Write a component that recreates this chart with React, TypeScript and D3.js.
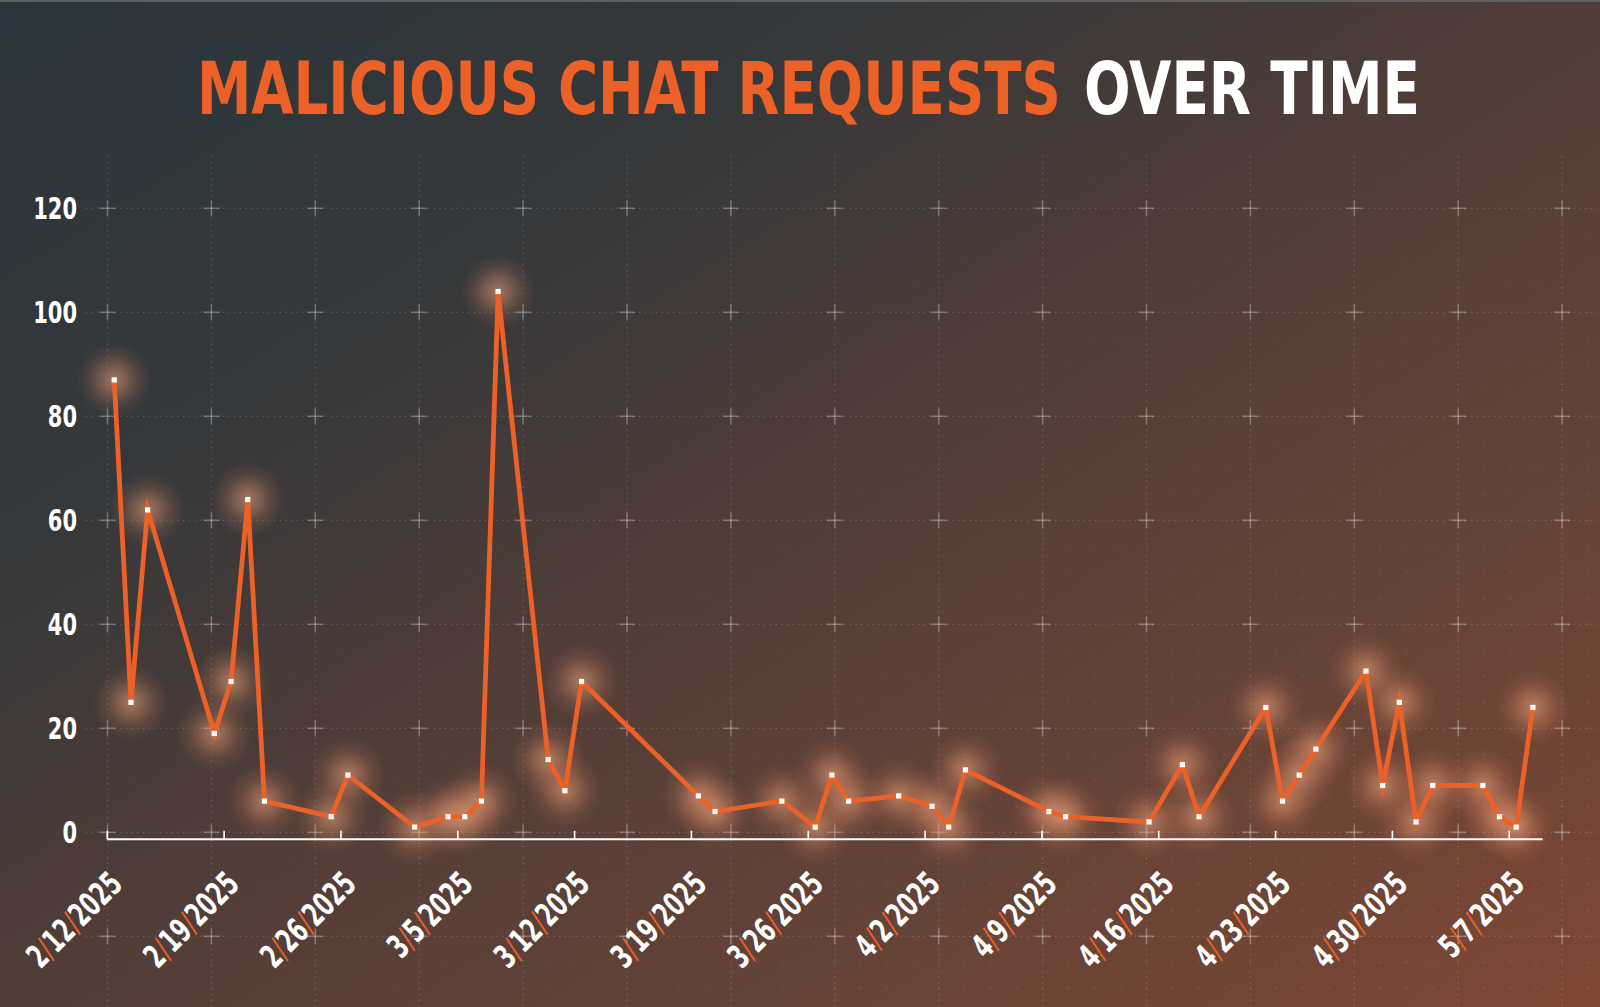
import React, { useLayoutEffect, useRef, useState } from "react";
import * as d3 from "d3";

const DATES = [
  "2/12/2025", "2/13/2025", "2/14/2025", "2/18/2025", "2/19/2025", "2/20/2025", "2/21/2025",
  "2/25/2025", "2/26/2025", "3/2/2025", "3/4/2025", "3/5/2025", "3/6/2025", "3/7/2025",
  "3/10/2025", "3/11/2025", "3/12/2025", "3/19/2025", "3/20/2025", "3/24/2025", "3/26/2025",
  "3/27/2025", "3/28/2025", "3/31/2025", "4/2/2025", "4/3/2025", "4/4/2025", "4/9/2025",
  "4/10/2025", "4/15/2025", "4/17/2025", "4/18/2025", "4/22/2025", "4/23/2025", "4/24/2025",
  "4/25/2025", "4/28/2025", "4/29/2025", "4/30/2025", "5/1/2025", "5/2/2025", "5/5/2025",
  "5/6/2025", "5/7/2025", "5/8/2025",
];
const VALUES = [
  87, 25, 62, 19, 29, 64, 6,
  3, 11, 1, 3, 3, 6, 104,
  14, 8, 29, 7, 4, 6, 1,
  11, 6, 7, 5, 1, 12, 4,
  3, 2, 13, 3, 24, 6, 11,
  16, 31, 9, 25, 2, 9, 9,
  3, 1, 24,
];
const TICK_LABELS = [
  "2/12/2025", "2/19/2025", "2/26/2025", "3/5/2025", "3/12/2025", "3/19/2025", "3/26/2025",
  "4/2/2025", "4/9/2025", "4/16/2025", "4/23/2025", "4/30/2025", "5/7/2025",
];
const Y_TICKS = [0, 20, 40, 60, 80, 100, 120];
const TITLE_A = "MALICIOUS CHAT REQUESTS";
const TITLE_B = "OVER TIME";

const W = 1600;
const H = 1007;
const ORANGE = "#EB6127";
const FONT = "'DejaVu Sans Condensed', 'DejaVu Sans', sans-serif";

const parse = (s: string) => {
  const [m, d, y] = s.split("/").map(Number);
  return new Date(Date.UTC(y, m - 1, d));
};

const labelLen = (s: string) =>
  s.split("").reduce((acc, c) => acc + (c === "/" ? 9.5 : 14.2), 0);

function FitText(props: {
  x: number;
  y: number;
  width: number;
  fill: string;
  fontSize: number;
  children: string;
}) {
  const ref = useRef<SVGTextElement>(null);
  const [sx, setSx] = useState(1);
  useLayoutEffect(() => {
    if (ref.current) {
      const w = ref.current.getComputedTextLength();
      if (w > 0) setSx(props.width / w);
    }
  }, [props.width, props.children]);
  return (
    <text
      ref={ref}
      x={0}
      y={0}
      transform={`translate(${props.x},${props.y}) scale(${sx},1)`}
      fontFamily={FONT}
      fontWeight="bold"
      fontSize={props.fontSize}
      fill={props.fill}
    >
      {props.children}
    </text>
  );
}

export default function App() {
  const x = d3
    .scaleUtc()
    .domain([parse("2/12/2025"), parse("5/9/2025")])
    .range([107.3, 1542.6]);
  const y = d3.scaleLinear().domain([0, 120]).range([832.3, 208.3]);

  const pts = DATES.map((d, i) => ({
    px: x(d3.utcHour.offset(parse(d), 10)),
    py: y(VALUES[i]),
  }));
  const line = d3
    .line<{ px: number; py: number }>()
    .x((p) => p.px)
    .y((p) => p.py);

  const colStep = 103.9;
  const cols = d3.range(15).map((k) => 107.5 + k * colStep);
  const rowStep = y(0) - y(20);
  const rows = d3.range(8).map((k) => y(120) + k * rowStep);

  const axisY = 839.3;

  return (
    <svg
      width={W}
      height={H}
      style={{ position: "absolute", left: 0, top: 0, display: "block" }}
      xmlns="http://www.w3.org/2000/svg"
    >
      <defs>
        <linearGradient id="bg" x1="0" y1="0" x2="1" y2="1">
          <stop offset="0" stopColor="#2A363D" />
          <stop offset="0.28" stopColor="#36383A" />
          <stop offset="0.5" stopColor="#513D37" />
          <stop offset="0.75" stopColor="#664337" />
          <stop offset="1" stopColor="#7E4733" />
        </linearGradient>
        <radialGradient id="glow">
          <stop offset="0" stopColor="#F4AC86" stopOpacity="0.55" />
          <stop offset="0.3" stopColor="#EA9A72" stopOpacity="0.4" />
          <stop offset="0.65" stopColor="#E08A64" stopOpacity="0.15" />
          <stop offset="1" stopColor="#E08560" stopOpacity="0" />
        </radialGradient>
        <pattern
          id="fine"
          width={colStep / 4}
          height={rowStep / 4}
          patternUnits="userSpaceOnUse"
          patternTransform={`translate(${107.5 - 1.5},${y(120) - 0.75})`}
        >
          <rect x="0" y="0" width="3" height="1.5" fill="#ffffff" />
        </pattern>
        <linearGradient id="fadeG" x1="0" y1="0" x2="1" y2="1">
          <stop offset="0.3" stopColor="#fff" stopOpacity="0" />
          <stop offset="1" stopColor="#fff" stopOpacity="1" />
        </linearGradient>
        <mask id="fadeM">
          <rect x="0" y="0" width={W} height={H} fill="url(#fadeG)" />
        </mask>
      </defs>

      <rect x="0" y="0" width={W} height={H} fill="url(#bg)" />
      <rect x="0" y="0" width={W} height="2" fill="#5E6062" />

      {/* fine dot grid */}
      <rect
        x="85"
        y="156"
        width={W - 85}
        height={H - 156}
        fill="url(#fine)"
        opacity="0.09"
        mask="url(#fadeM)"
      />

      {/* dotted grid lines */}
      <g stroke="#ffffff" strokeOpacity="0.2" strokeWidth="1.2" strokeDasharray="1.2 4.5">
        {cols.map((cx, i) => (
          <line key={"v" + i} x1={cx} x2={cx} y1={156} y2={H} />
        ))}
        {rows.map((ry, i) => (
          <line key={"h" + i} x1={86} x2={W} y1={ry} y2={ry} />
        ))}
      </g>
      {/* plus markers */}
      <g stroke="#ffffff" strokeOpacity="0.28" strokeWidth="1.6">
        {cols.map((cx, i) =>
          rows.map((ry, j) => (
            <g key={`p${i}-${j}`}>
              <line x1={cx - 8} x2={cx + 8} y1={ry} y2={ry} />
              <line x1={cx} x2={cx} y1={ry - 8} y2={ry + 8} />
            </g>
          ))
        )}
      </g>

      {/* title */}
      <FitText x={197} y={114} width={864} fill={ORANGE} fontSize={73}>
        {TITLE_A}
      </FitText>
      <FitText x={1084} y={114} width={336} fill="#FFFFFF" fontSize={73}>
        {TITLE_B}
      </FitText>

      {/* y labels */}
      {Y_TICKS.map((t) => (
        <text
          key={"y" + t}
          x={77}
          y={y(t) + 10.5}
          textAnchor="end"
          fontFamily={FONT}
          fontWeight="bold"
          fontSize={31}
          fill="#FFFFFF"
          textLength={String(t).length * 14.6}
          lengthAdjust="spacingAndGlyphs"
        >
          {t}
        </text>
      ))}

      {/* glows */}
      {pts.map((p, i) => (
        <circle key={"g" + i} cx={p.px} cy={p.py} r={38} fill="url(#glow)" />
      ))}

      {/* x axis */}
      <line x1={x(parse("2/12/2025"))} x2={x(parse("5/9/2025"))} y1={axisY} y2={axisY} stroke="#FFFFFF" strokeWidth={2} />
      {TICK_LABELS.map((t) => {
        const tx = x(parse(t));
        return (
          <line key={"t" + t} x1={tx} x2={tx} y1={axisY} y2={axisY - 8.5} stroke="#FFFFFF" strokeWidth={1.6} />
        );
      })}
      {TICK_LABELS.map((t) => {
        const tx = x(parse(t)) + 17;
        const ty = 886;
        const parts = t.split("/");
        return (
          <text
            key={"l" + t}
            x={tx}
            y={ty}
            transform={`rotate(-45 ${tx} ${ty})`}
            textAnchor="end"
            fontFamily={FONT}
            fontWeight="bold"
            fontSize={33}
            fill="#FFFFFF"
            textLength={labelLen(t)}
            lengthAdjust="spacingAndGlyphs"
          >
            <tspan>{parts[0]}</tspan>
            <tspan fill={ORANGE} fontWeight="normal">/</tspan>
            <tspan>{parts[1]}</tspan>
            <tspan fill={ORANGE} fontWeight="normal">/</tspan>
            <tspan>{parts[2]}</tspan>
          </text>
        );
      })}

      {/* line */}
      <path d={line(pts) || ""} fill="none" stroke={ORANGE} strokeWidth={4.8} strokeLinejoin="miter" strokeMiterlimit={12} />
      {pts.map((p, i) => (
        <rect key={"m" + i} x={p.px - 2.6} y={p.py - 2.6} width={5.2} height={5.2} fill="#FFFFFF" />
      ))}
    </svg>
  );
}
